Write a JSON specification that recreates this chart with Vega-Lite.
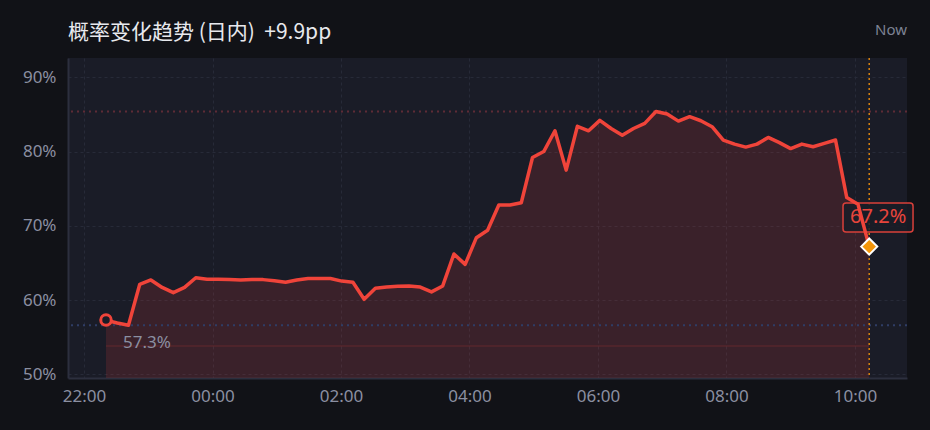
{
  "$schema": "https://vega.github.io/schema/vega-lite/v6.json",
  "width": 839,
  "height": 320,
  "autosize": {"type": "none"},
  "padding": {"left": 68, "top": 58, "right": 23, "bottom": 52},
  "background": "#111217",
  "title": {
    "text": "概率变化趋势 (日内)\u00a0\u00a0+9.9pp",
    "anchor": "start",
    "frame": "group",
    "font": "Noto Sans CJK SC",
    "fontSize": 21,
    "fontWeight": "normal",
    "color": "#e8e9ee",
    "offset": -20
  },
  "config": {
    "view": {"fill": "#1a1c27", "stroke": null},
    "axis": {
      "labelFont": "Noto Sans",
      "labelFontSize": 17,
      "labelColor": "#8b8fa1",
      "ticks": false,
      "gridColor": "#272a38",
      "gridDash": [3, 3],
      "gridWidth": 1,
      "domainColor": "#2c2f3e",
      "domainWidth": 2,
      "title": null
    }
  },
  "datasets": {
    "series": [
      {"t": "2024-01-01T22:20:30Z", "v": 57.3},
      {"t": "2024-01-01T22:30:59Z", "v": 56.9},
      {"t": "2024-01-01T22:41:28Z", "v": 56.6},
      {"t": "2024-01-01T22:51:57Z", "v": 62.1},
      {"t": "2024-01-01T23:02:26Z", "v": 62.7},
      {"t": "2024-01-01T23:12:55Z", "v": 61.7},
      {"t": "2024-01-01T23:23:24Z", "v": 61.0},
      {"t": "2024-01-01T23:33:53Z", "v": 61.7},
      {"t": "2024-01-01T23:44:22Z", "v": 63.0},
      {"t": "2024-01-01T23:54:51Z", "v": 62.8},
      {"t": "2024-01-02T00:05:20Z", "v": 62.8},
      {"t": "2024-01-02T00:15:49Z", "v": 62.75},
      {"t": "2024-01-02T00:26:18Z", "v": 62.7},
      {"t": "2024-01-02T00:36:47Z", "v": 62.75},
      {"t": "2024-01-02T00:47:16Z", "v": 62.75},
      {"t": "2024-01-02T00:57:45Z", "v": 62.6},
      {"t": "2024-01-02T01:08:14Z", "v": 62.4},
      {"t": "2024-01-02T01:18:43Z", "v": 62.7},
      {"t": "2024-01-02T01:29:12Z", "v": 62.9},
      {"t": "2024-01-02T01:39:41Z", "v": 62.9},
      {"t": "2024-01-02T01:50:10Z", "v": 62.9},
      {"t": "2024-01-02T02:00:39Z", "v": 62.55},
      {"t": "2024-01-02T02:11:08Z", "v": 62.4},
      {"t": "2024-01-02T02:21:37Z", "v": 60.1},
      {"t": "2024-01-02T02:32:06Z", "v": 61.6},
      {"t": "2024-01-02T02:42:35Z", "v": 61.75},
      {"t": "2024-01-02T02:53:04Z", "v": 61.85},
      {"t": "2024-01-02T03:03:33Z", "v": 61.9},
      {"t": "2024-01-02T03:14:02Z", "v": 61.75},
      {"t": "2024-01-02T03:24:31Z", "v": 61.1},
      {"t": "2024-01-02T03:35:00Z", "v": 61.9},
      {"t": "2024-01-02T03:45:29Z", "v": 66.2},
      {"t": "2024-01-02T03:55:58Z", "v": 64.8},
      {"t": "2024-01-02T04:06:27Z", "v": 68.4},
      {"t": "2024-01-02T04:16:56Z", "v": 69.4},
      {"t": "2024-01-02T04:27:25Z", "v": 72.8},
      {"t": "2024-01-02T04:37:54Z", "v": 72.8},
      {"t": "2024-01-02T04:48:23Z", "v": 73.1},
      {"t": "2024-01-02T04:58:52Z", "v": 79.2},
      {"t": "2024-01-02T05:09:21Z", "v": 80.0},
      {"t": "2024-01-02T05:19:50Z", "v": 82.8},
      {"t": "2024-01-02T05:30:19Z", "v": 77.5},
      {"t": "2024-01-02T05:40:48Z", "v": 83.4},
      {"t": "2024-01-02T05:51:17Z", "v": 82.8},
      {"t": "2024-01-02T06:01:46Z", "v": 84.2},
      {"t": "2024-01-02T06:12:15Z", "v": 83.1},
      {"t": "2024-01-02T06:22:44Z", "v": 82.2},
      {"t": "2024-01-02T06:33:13Z", "v": 83.1},
      {"t": "2024-01-02T06:43:42Z", "v": 83.8},
      {"t": "2024-01-02T06:54:11Z", "v": 85.4},
      {"t": "2024-01-02T07:04:40Z", "v": 85.05},
      {"t": "2024-01-02T07:15:09Z", "v": 84.1},
      {"t": "2024-01-02T07:25:38Z", "v": 84.7},
      {"t": "2024-01-02T07:36:07Z", "v": 84.15},
      {"t": "2024-01-02T07:46:36Z", "v": 83.35},
      {"t": "2024-01-02T07:57:05Z", "v": 81.55},
      {"t": "2024-01-02T08:07:34Z", "v": 81.0},
      {"t": "2024-01-02T08:18:03Z", "v": 80.6},
      {"t": "2024-01-02T08:28:32Z", "v": 81.0},
      {"t": "2024-01-02T08:39:01Z", "v": 81.9},
      {"t": "2024-01-02T08:49:30Z", "v": 81.2},
      {"t": "2024-01-02T08:59:59Z", "v": 80.4},
      {"t": "2024-01-02T09:10:28Z", "v": 81.0},
      {"t": "2024-01-02T09:20:57Z", "v": 80.65},
      {"t": "2024-01-02T09:31:26Z", "v": 81.1},
      {"t": "2024-01-02T09:41:55Z", "v": 81.55},
      {"t": "2024-01-02T09:52:24Z", "v": 73.8},
      {"t": "2024-01-02T10:02:53Z", "v": 72.9},
      {"t": "2024-01-02T10:13:22Z", "v": 67.2}
    ],
    "first": [{"t": "2024-01-01T22:20:30Z", "v": 57.3, "label": "57.3%"}],
    "last": [{"t": "2024-01-02T10:13:22Z", "v": 67.2, "label": "67.2%"}],
    "refs": [
      {"v": 85.4, "kind": "max"},
      {"v": 56.6, "kind": "min"}
    ]
  },
  "layer": [
    {
      "data": {"name": "series"},
      "mark": {"type": "area", "color": "#f0443a", "opacity": 0.15},
      "encoding": {
        "x": {
          "field": "t", "type": "temporal",
          "scale": {
            "type": "utc",
            "domain": [
              {"year": 2024, "month": 1, "date": 1, "hours": 21, "minutes": 45, "utc": true},
              {"year": 2024, "month": 1, "date": 2, "hours": 10, "minutes": 48, "seconds": 40, "utc": true}
            ]
          },
          "axis": {
            "format": "%H:%M",
            "labelPadding": 10,
            "values": [
              {"year": 2024, "month": 1, "date": 1, "hours": 22, "utc": true},
              {"year": 2024, "month": 1, "date": 2, "hours": 0, "utc": true},
              {"year": 2024, "month": 1, "date": 2, "hours": 2, "utc": true},
              {"year": 2024, "month": 1, "date": 2, "hours": 4, "utc": true},
              {"year": 2024, "month": 1, "date": 2, "hours": 6, "utc": true},
              {"year": 2024, "month": 1, "date": 2, "hours": 8, "utc": true},
              {"year": 2024, "month": 1, "date": 2, "hours": 10, "utc": true}
            ]
          }
        },
        "y": {
          "field": "v", "type": "quantitative",
          "scale": {"domain": [49.5, 92.6], "nice": false, "zero": false},
          "axis": {"values": [50, 60, 70, 80, 90], "labelExpr": "datum.value + '%'", "labelPadding": 12}
        },
        "y2": {"datum": 49.5}
      }
    },
    {
      "data": {"name": "refs"},
      "mark": {"type": "rule", "strokeDash": [2, 4], "strokeWidth": 2},
      "encoding": {
        "y": {"field": "v", "type": "quantitative"},
        "color": {
          "field": "kind", "type": "nominal",
          "scale": {"domain": ["max", "min"], "range": ["#5e2b36", "#2f3d66"]},
          "legend": null
        }
      }
    },
    {
      "data": {"name": "first"},
      "mark": {"type": "rule", "color": "#f0443a", "opacity": 0.15, "strokeWidth": 1.5},
      "encoding": {
        "x": {"field": "t", "type": "temporal"},
        "x2": {"datum": {"year": 2024, "month": 1, "date": 2, "hours": 10, "minutes": 13, "seconds": 22, "utc": true}},
        "y": {"datum": 53.8}
      }
    },
    {
      "data": {"name": "last"},
      "mark": {"type": "rule", "color": "#d9820f", "strokeDash": [2, 3], "strokeWidth": 1.5},
      "encoding": {
        "x": {"field": "t", "type": "temporal"}
      }
    },
    {
      "data": {"name": "last"},
      "mark": {"type": "rect", "fill": "#1a1c27", "fillOpacity": 0.85, "stroke": "#d9403a", "strokeWidth": 1.5, "cornerRadius": 3},
      "encoding": {
        "x": {"datum": {"year": 2024, "month": 1, "date": 2, "hours": 9, "minutes": 48, "seconds": 54, "utc": true}, "type": "temporal"},
        "x2": {"datum": {"year": 2024, "month": 1, "date": 2, "hours": 10, "minutes": 54, "seconds": 18, "utc": true}},
        "y": {"datum": 73.06, "type": "quantitative"},
        "y2": {"datum": 69.15}
      }
    },
    {
      "data": {"name": "last"},
      "mark": {"type": "text", "color": "#e8453c", "font": "Noto Sans", "fontSize": 20, "align": "center", "baseline": "middle", "dx": 9, "dy": -30},
      "encoding": {
        "x": {"field": "t", "type": "temporal"},
        "y": {"field": "v", "type": "quantitative"},
        "text": {"field": "label"}
      }
    },
    {
      "data": {"name": "first"},
      "mark": {"type": "text", "color": "#8b8fa1", "font": "Noto Sans", "fontSize": 17, "align": "left", "baseline": "middle", "dx": 17, "dy": 23},
      "encoding": {
        "x": {"field": "t", "type": "temporal"},
        "y": {"field": "v", "type": "quantitative"},
        "text": {"field": "label"}
      }
    },
    {
      "data": {"name": "series"},
      "mark": {"type": "line", "color": "#f0443a", "strokeWidth": 3.5, "strokeJoin": "round", "strokeCap": "round"},
      "encoding": {
        "x": {"field": "t", "type": "temporal"},
        "y": {"field": "v", "type": "quantitative"}
      }
    },
    {
      "data": {"name": "first"},
      "mark": {"type": "point", "shape": "circle", "size": 110, "filled": true, "fill": "#1a1c27", "stroke": "#f0443a", "strokeWidth": 3, "opacity": 1},
      "encoding": {
        "x": {"field": "t", "type": "temporal"},
        "y": {"field": "v", "type": "quantitative"}
      }
    },
    {
      "data": {"name": "last"},
      "mark": {"type": "point", "shape": "diamond", "size": 260, "filled": true, "fill": "#f5960a", "stroke": "#ffffff", "strokeWidth": 2, "opacity": 1},
      "encoding": {
        "x": {"field": "t", "type": "temporal"},
        "y": {"field": "v", "type": "quantitative"}
      }
    },
    {
      "data": {"values": [{"label": "Now"}]},
      "mark": {"type": "text", "color": "#7d8294", "font": "Noto Sans", "fontSize": 15, "align": "right", "baseline": "middle"},
      "encoding": {
        "x": {"datum": {"year": 2024, "month": 1, "date": 2, "hours": 10, "minutes": 48, "seconds": 40, "utc": true}, "type": "temporal"},
        "y": {"datum": 96.4, "type": "quantitative"},
        "text": {"field": "label"}
      }
    }
  ]
}
